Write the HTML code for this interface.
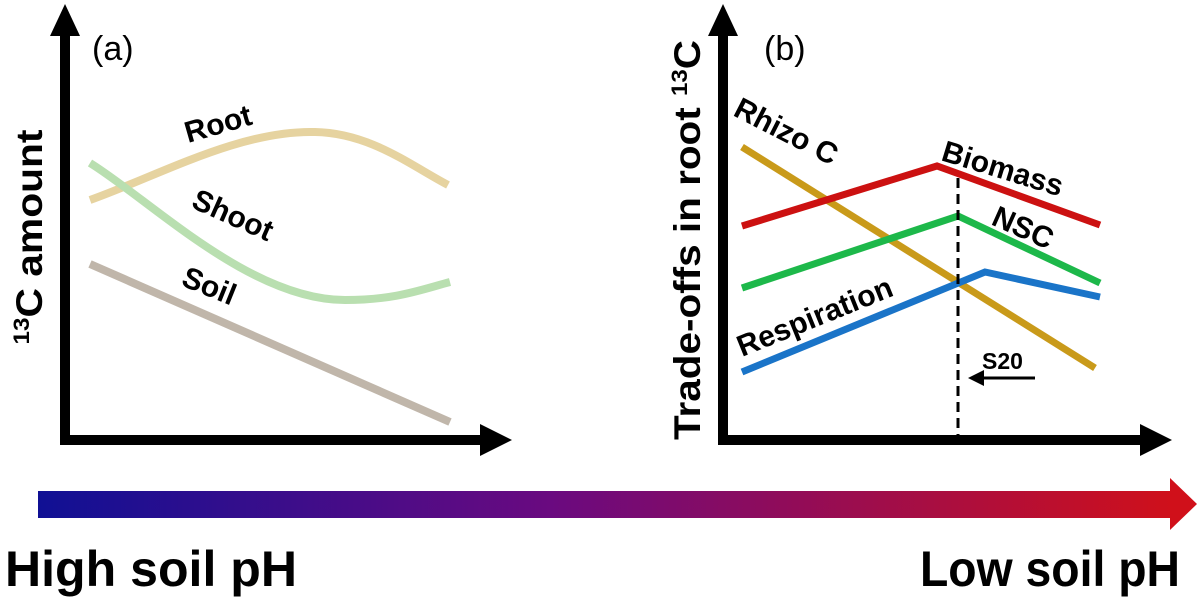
<!DOCTYPE html>
<html><head><meta charset="utf-8"><style>html,body{margin:0;padding:0;background:#fff;}svg{display:block}</style></head>
<body>
<svg width="1199" height="597" viewBox="0 0 1199 597" xmlns="http://www.w3.org/2000/svg" font-family="Liberation Sans, Arial, sans-serif">
<defs>
<linearGradient id="g" x1="0" x2="1" y1="0" y2="0">
<stop offset="0" stop-color="#101094"/><stop offset="0.45" stop-color="#6a0a80"/><stop offset="1" stop-color="#d0101a"/>
</linearGradient>
</defs>
<line x1="65" y1="30" x2="65" y2="445" stroke="#000" stroke-width="10"/>
<polygon points="50,36 65,4 80,36" fill="#000"/>
<line x1="60" y1="440" x2="485" y2="440" stroke="#000" stroke-width="10"/>
<polygon points="480,424 512,440 480,456" fill="#000"/>
<text x="92" y="60" font-size="34">(a)</text>
<text transform="translate(42,237) rotate(-90)" font-size="37" font-weight="bold" text-anchor="middle" textLength="215" lengthAdjust="spacingAndGlyphs"><tspan font-size="22" dy="-13">13</tspan><tspan dy="13">C amount</tspan></text>
<path d="M90,200 C160,175 240,130 315,132 C370,133 410,165 448,185" fill="none" stroke="#e6d3a0" stroke-width="8"/>
<path d="M90,163 C150,200 250,300 345,300 C395,300 420,290 450,282" fill="none" stroke="#b9dfb0" stroke-width="8"/>
<line x1="90" y1="264" x2="450" y2="422" stroke="#c0b6aa" stroke-width="8"/>
<text transform="translate(188,143) rotate(-16)" font-size="30" font-weight="bold">Root</text>
<text transform="translate(190,207) rotate(24)" font-size="30" font-weight="bold">Shoot</text>
<text transform="translate(180,285) rotate(22)" font-size="30" font-weight="bold">Soil</text>
<line x1="723" y1="30" x2="723" y2="445" stroke="#000" stroke-width="10"/>
<polygon points="708,36 723,4 738,36" fill="#000"/>
<line x1="718" y1="440" x2="1145" y2="440" stroke="#000" stroke-width="10"/>
<polygon points="1140,424 1172,440 1140,456" fill="#000"/>
<text x="764" y="60" font-size="34">(b)</text>
<text transform="translate(700,240) rotate(-90)" font-size="37" font-weight="bold" text-anchor="middle" textLength="400" lengthAdjust="spacingAndGlyphs">Trade-offs in root <tspan font-size="22" dy="-13">13</tspan><tspan dy="13">C</tspan></text>
<polyline points="742,147 1095,368" fill="none" stroke="#c99a1a" stroke-width="7"/>
<polyline points="742,226 937,166 1100,225" fill="none" stroke="#cc1111" stroke-width="7"/>
<polyline points="742,288 958,216 1100,283" fill="none" stroke="#1db84a" stroke-width="7"/>
<polyline points="742,372 985,272 1100,297" fill="none" stroke="#1a74c8" stroke-width="7"/>
<line x1="958" y1="178" x2="958" y2="436" stroke="#000" stroke-width="3" stroke-dasharray="10,6"/>
<line x1="980" y1="378" x2="1035" y2="378" stroke="#000" stroke-width="3"/>
<polygon points="968,378 984,370 984,386" fill="#000"/>
<text x="982" y="369" font-size="23" font-weight="bold">S20</text>
<text transform="translate(732,115) rotate(27)" font-size="30" font-weight="bold">Rhizo C</text>
<text transform="translate(940,160) rotate(17)" font-size="30" font-weight="bold">Biomass</text>
<text transform="translate(990,224) rotate(24)" font-size="30" font-weight="bold">NSC</text>
<text transform="translate(742,357) rotate(-22)" font-size="30" font-weight="bold">Respiration</text>
<rect x="38" y="491" width="1138" height="27" fill="url(#g)"/>
<polygon points="1170,478 1197,504 1170,530" fill="#d0101a"/>
<text x="5" y="586" font-size="50" font-weight="bold" textLength="292" lengthAdjust="spacingAndGlyphs">High soil pH</text>
<text x="920" y="586" font-size="50" font-weight="bold" textLength="260" lengthAdjust="spacingAndGlyphs">Low soil pH</text>
</svg>
</body></html>
